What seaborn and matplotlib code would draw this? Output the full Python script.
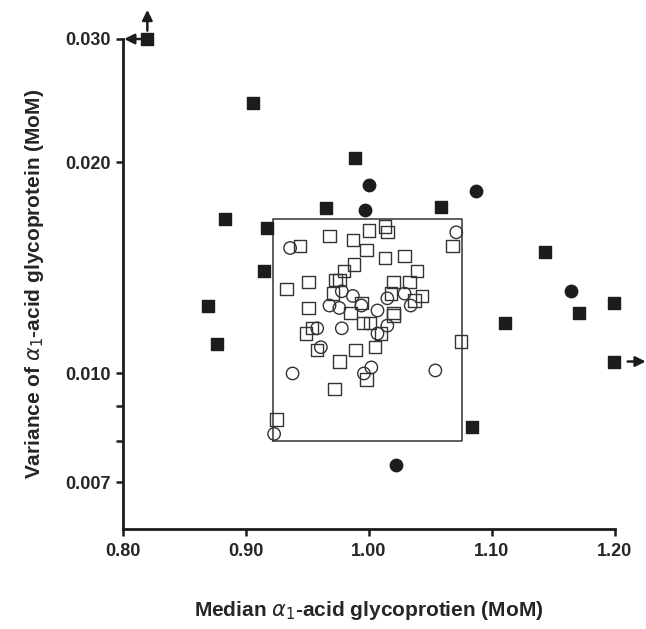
import numpy as np
import pandas as pd
import matplotlib
matplotlib.use("Agg")
import matplotlib.pyplot as plt
import matplotlib.ticker as mtick
import matplotlib.transforms as mtransforms
import seaborn as sns

# open squares (inside reference box)
open_sq_x = [0.944, 0.968, 0.987, 1.000, 1.013, 1.015, 0.998, 1.029, 1.013, 1.039,
             0.988, 0.980, 0.976, 0.973, 0.951, 0.933, 1.020, 1.033, 1.043, 0.971,
             1.018, 1.037, 0.994, 0.951, 0.985, 1.020, 1.020, 0.995, 1.001, 0.949,
             0.954, 1.010, 0.958, 0.989, 1.005, 0.976, 0.998, 0.972, 1.068, 1.075, 0.925]
open_sq_y = [0.0152, 0.0157, 0.0155, 0.0160, 0.0162, 0.0159, 0.0150, 0.0147, 0.0146, 0.0140,
             0.0143, 0.0140, 0.0136, 0.0136, 0.0135, 0.0132, 0.0135, 0.0135, 0.0129, 0.0130,
             0.0130, 0.0127, 0.0126, 0.0124, 0.0122, 0.0122, 0.0121, 0.0118, 0.0118, 0.0114,
             0.0116, 0.0114, 0.0108, 0.0108, 0.0109, 0.0104, 0.0098, 0.0095, 0.0152, 0.0111, 0.0086]

# open circles
open_ci_x = [0.936, 1.071, 0.978, 0.987, 0.994, 0.968, 0.976, 1.007, 1.015, 1.029,
             1.034, 0.958, 0.978, 1.015, 1.007, 0.961, 0.938, 1.002, 0.996, 1.054, 0.923]
open_ci_y = [0.0151, 0.0159, 0.0131, 0.0129, 0.0125, 0.0125, 0.0124, 0.0123, 0.0128, 0.0130,
             0.0125, 0.0116, 0.0116, 0.0117, 0.0114, 0.0109, 0.0100, 0.0102, 0.0100, 0.0101, 0.0082]

# filled squares (outliers)
fill_sq_x = [0.820, 0.906, 0.989, 0.883, 0.965, 1.059, 0.917, 0.915, 1.143, 0.869,
             0.877, 1.199, 1.171, 1.111, 1.199, 1.084]
fill_sq_y = [0.0300, 0.0243, 0.0203, 0.0166, 0.0172, 0.0173, 0.0161, 0.0140, 0.0149, 0.0125,
             0.0110, 0.0126, 0.0122, 0.0118, 0.0104, 0.0084]

# filled circles (outliers)
fill_ci_x = [1.000, 1.087, 0.997, 1.164, 1.022]
fill_ci_y = [0.0186, 0.0182, 0.0171, 0.0131, 0.0074]

# reference box
box_x = [0.922, 1.076]
box_y = [0.0080, 0.0166]

x_ticks = [0.80, 0.90, 1.00, 1.10, 1.20]
y_ticks = [0.007, 0.010, 0.020, 0.030]
y_minor = [0.008, 0.009]

sns.set_style("ticks")
plt.rcParams["font.family"] = ["Liberation Sans", "DejaVu Sans"]
plt.rcParams["mathtext.fontset"] = "dejavusans"

fig = plt.figure(figsize=(6.46, 6.29), dpi=100)
ax = fig.add_axes([0.190, 0.159, 0.762, 0.779])

ink = "#1c1c1c"

ax.plot([box_x[0], box_x[1], box_x[1], box_x[0], box_x[0]],
        [box_y[0], box_y[0], box_y[1], box_y[1], box_y[0]],
        color="#333333", lw=1.1, zorder=1)

groups = [
    (open_sq_x, open_sq_y, "s", "white", "#333333"),
    (open_ci_x, open_ci_y, "o", "white", "#333333"),
    (fill_sq_x, fill_sq_y, "s", ink, ink),
    (fill_ci_x, fill_ci_y, "o", ink, ink),
]
for xs, ys, mk, fc, ec in groups:
    df = pd.DataFrame({"median": xs, "variance": ys})
    sns.scatterplot(data=df, x="median", y="variance", marker=mk, s=80,
                    facecolor="none" if fc == "white" else fc, edgecolor=ec,
                    linewidth=1.0, ax=ax, clip_on=False, zorder=3)

ax.set_yscale("log")
ax.set_xlim(x_ticks[0], x_ticks[-1])
ax.set_ylim(0.006, y_ticks[-1])
ax.set_xticks(x_ticks)
ax.set_yticks(y_ticks)
ax.set_yticks(y_minor, minor=True)
ax.xaxis.set_major_formatter(mtick.FormatStrFormatter("%.2f"))
ax.yaxis.set_major_formatter(mtick.FormatStrFormatter("%.3f"))
ax.yaxis.set_minor_formatter(mtick.NullFormatter())

for s in ["top", "right"]:
    ax.spines[s].set_visible(False)
for s in ["left", "bottom"]:
    ax.spines[s].set_linewidth(2.0)
    ax.spines[s].set_color(ink)
ax.tick_params(axis="both", which="both", direction="out", length=5, width=1.8,
               color=ink, labelsize=13)
ax.tick_params(axis="x", pad=5)
for lab in ax.get_xticklabels() + ax.get_yticklabels():
    lab.set_fontweight("bold")

ax.set_xlabel(r"Median $\alpha_1$-acid glycoprotien (MoM)", fontsize=15,
              fontweight="bold", labelpad=28)
ax.set_ylabel(r"Variance of $\alpha_1$-acid glycoprotein (MoM)", fontsize=15,
              fontweight="bold", labelpad=14)

# off-scale arrows
arrow = dict(arrowstyle="-|>", lw=1.8, color=ink, mutation_scale=15,
             shrinkA=0, shrinkB=0)


def offset(dx, dy):
    return mtransforms.offset_copy(ax.transData, fig=fig, x=dx, y=dy, units="points")


top_x, top_y = fill_sq_x[0], fill_sq_y[0]
ax.annotate("", xy=(top_x, top_y), xycoords=offset(0, 21),
            xytext=(top_x, top_y), textcoords=offset(0, 6),
            arrowprops=arrow, annotation_clip=False)
ax.annotate("", xy=(x_ticks[0], top_y), xycoords=offset(1, 0),
            xytext=(top_x, top_y), textcoords=offset(-5, 0),
            arrowprops=arrow, annotation_clip=False)
r_x, r_y = fill_sq_x[14], fill_sq_y[14]
ax.annotate("", xy=(r_x, r_y), xycoords=offset(23, 0),
            xytext=(r_x, r_y), textcoords=offset(10, 0),
            arrowprops=arrow, annotation_clip=False)

fig.savefig("out.png", dpi=100)
